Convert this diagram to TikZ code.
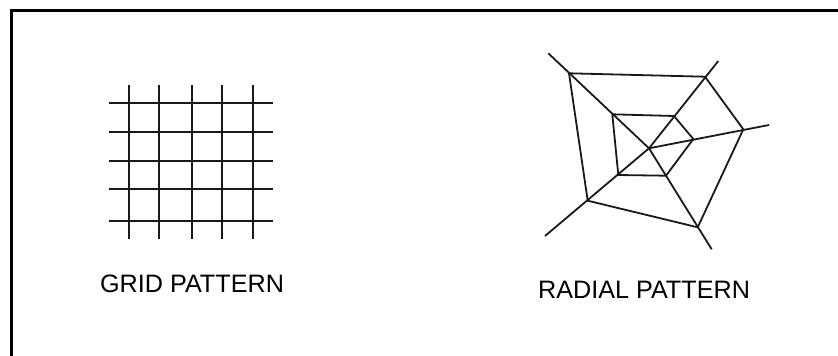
\documentclass[tikz,border=0pt]{standalone}
\usepackage{fontspec}
\setmainfont{Liberation Sans}
\begin{document}
\begin{tikzpicture}[x=1pt,y=-1pt,
  web/.style={line width=1.8pt,black!90},
  gridline/.style={line width=2.3pt,black!90},
  caption/.style={inner sep=0pt,font=\fontsize{25.2pt}{29pt}\selectfont},
  frameline/.style={line width=2.6pt,black}]
\useasboundingbox (0,0) rectangle (838,356);
\coordinate (fa) at (11.4,356);
\coordinate (fb) at (11.4,10.3);
\coordinate (fc) at (838,10.3);
\draw[frameline] (fa) -- (fb) -- (fc);
\foreach \x in {129,159.3,191.7,222.3,252.7}{
  \coordinate (vt) at (\x,85); \coordinate (vb) at (\x,239);
  \draw[gridline] (vt) -- (vb);}
\foreach \y in {103.3,132,160.7,189.3,220.7}{
  \coordinate (hl) at (109.3,\y); \coordinate (hr) at (272.7,\y);
  \draw[gridline] (hl) -- (hr);}
\coordinate (O) at (649,148.3);
\coordinate (A) at (569,73.3);  \coordinate (At) at (548.3,53.3);
\coordinate (B) at (705,76.7);  \coordinate (Bt) at (718.3,61);
\coordinate (C) at (743.3,129.3); \coordinate (Ct) at (769,125);
\coordinate (D) at (697.7,227.3); \coordinate (Dt) at (711.7,249.3);
\coordinate (E) at (587.7,200.7); \coordinate (Et) at (545,236);
\coordinate (a) at (612.3,114.3);
\coordinate (b) at (674,116);
\coordinate (c) at (693.3,139);
\coordinate (d) at (666,175.7);
\coordinate (e) at (618.3,175);
\draw[web] (O) -- (At);
\draw[web] (O) -- (Bt);
\draw[web] (O) -- (Ct);
\draw[web] (O) -- (Dt);
\draw[web] (O) -- (Et);
\draw[web] (A) -- (B) -- (C) -- (D) -- (E) -- cycle;
\draw[web] (a) -- (b) -- (c) -- (d) -- (e) -- cycle;
\node[caption] (g) at (192,284) {GRID PATTERN};
\node[caption] (r) at (644,289.5) {RADIAL PATTERN};
\end{tikzpicture}
\end{document}
